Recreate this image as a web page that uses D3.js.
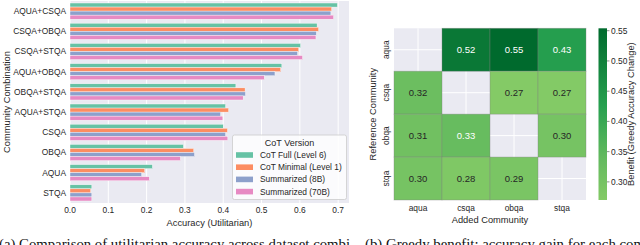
<!DOCTYPE html>
<html lang="en">
<head>
<meta charset="utf-8">
<title>CoT versions and greedy benefit</title>
<script src="https://d3js.org/d3.v7.min.js"></script>
<style>
  body { margin: 0; background: #fff; }
  svg text { font-family: "Liberation Sans", Arial, sans-serif; fill: #262626; }
  .caption { font-family: "Liberation Serif", "Times New Roman", serif; fill: #111; }
</style>
</head>
<body>
<script>
// ---- data: left chart (accuracy per combination and CoT version)
var combos = ["AQUA+CSQA", "CSQA+OBQA", "CSQA+STQA", "AQUA+OBQA", "OBQA+STQA",
              "AQUA+STQA", "CSQA", "OBQA", "AQUA", "STQA"];
var versions = ["CoT Full (Level 6)", "CoT Minimal (Level 1)", "Summarized (8B)", "Summarized (70B)"];
var cotFull    = [0.698, 0.645, 0.602, 0.553, 0.433, 0.406, 0.400, 0.296, 0.215, 0.057];
var cotMinimal = [0.683, 0.649, 0.597, 0.550, 0.457, 0.414, 0.411, 0.323, 0.195, 0.054];
var summ8b     = [0.681, 0.643, 0.594, 0.535, 0.458, 0.393, 0.406, 0.325, 0.187, 0.057];
var summ70b    = [0.688, 0.642, 0.607, 0.507, 0.452, 0.399, 0.412, 0.288, 0.207, 0.057];
var xTicks = [0.0, 0.1, 0.2, 0.3, 0.4, 0.5, 0.6, 0.7];

// ---- data: right chart (greedy benefit, rows = reference, cols = added)
var communities = ["aqua", "csqa", "obqa", "stqa"];
var benefitAqua = [null, 0.52, 0.554, 0.43];
var benefitCsqa = [0.32, null, 0.27, 0.272];
var benefitObqa = [0.31, 0.33, null, 0.30];
var benefitStqa = [0.30, 0.28, 0.29, null];
var cbarTicks = [0.30, 0.35, 0.40, 0.45, 0.50, 0.55];

var palette = ["#66c2a5", "#fc8d62", "#8da0cb", "#e78ac3"];
var series = [cotFull, cotMinimal, summ8b, summ70b];

var svg = d3.select("body").append("svg")
  .attr("width", 640).attr("height", 245);

/******** LEFT: grouped horizontal bars ********/
var left = {x0: 70, x1: 349, y0: 1, y1: 203};

var xScale = d3.scaleLinear().domain([0, 0.7283]).range([left.x0, left.x1]);
var yScale = d3.scaleBand().domain(combos).range([left.y0, left.y1]);
var inner = d3.scaleBand().domain(d3.range(4))
  .range([0, yScale.bandwidth() * 0.8]);

svg.append("rect")
  .attr("x", left.x0).attr("y", left.y0)
  .attr("width", left.x1 - left.x0).attr("height", left.y1 - left.y0)
  .attr("fill", "#eaeaf2");

svg.append("g").selectAll("line").data(xTicks).join("line")
  .attr("x1", d => xScale(d)).attr("x2", d => xScale(d))
  .attr("y1", left.y0).attr("y2", left.y1)
  .attr("stroke", "#fff").attr("stroke-width", 1);

var bars = [];
combos.forEach(function(c, i) {
  series.forEach(function(s, j) {
    bars.push({combo: c, k: j, v: s[i]});
  });
});

svg.append("g").selectAll("rect").data(bars).join("rect")
  .attr("x", xScale(0))
  .attr("y", d => yScale(d.combo) + yScale.bandwidth() * 0.1 + inner(d.k))
  .attr("width", d => xScale(d.v) - xScale(0))
  .attr("height", inner.bandwidth())
  .attr("fill", d => palette[d.k])
  .attr("stroke", "#fff").attr("stroke-width", 0.4);

svg.append("g").selectAll("text").data(combos).join("text")
  .attr("x", left.x0 - 4)
  .attr("y", d => yScale(d) + yScale.bandwidth() / 2)
  .attr("dy", "0.35em").attr("text-anchor", "end")
  .style("font-size", "8.4px").text(d => d);

svg.append("g").selectAll("text").data(xTicks).join("text")
  .attr("x", d => xScale(d)).attr("y", 213)
  .attr("text-anchor", "middle")
  .style("font-size", "8.4px").text(d => d.toFixed(1));

svg.append("text")
  .attr("x", (left.x0 + left.x1) / 2).attr("y", 226)
  .attr("text-anchor", "middle").style("font-size", "9.3px")
  .text("Accuracy (Utilitarian)");

svg.append("text")
  .attr("transform", "translate(10," + ((left.y0 + left.y1) / 2) + ") rotate(-90)")
  .attr("text-anchor", "middle").style("font-size", "9.3px")
  .text("Community Combination");

// legend
var lg = svg.append("g");
lg.append("rect")
  .attr("x", 232.5).attr("y", 135).attr("width", 114).attr("height", 64.5)
  .attr("rx", 2).attr("fill", "#fff").attr("fill-opacity", 0.8)
  .attr("stroke", "#cccccc").attr("stroke-width", 0.8);
lg.append("text").attr("x", 289.5).attr("y", 146)
  .attr("text-anchor", "middle").style("font-size", "9px").text("CoT Version");
var entries = lg.selectAll("g.entry").data(versions).join("g")
  .attr("transform", (d, i) => "translate(236," + (155 + i * 12.2) + ")");
entries.append("rect")
  .attr("x", 0).attr("y", -2.8).attr("width", 17).attr("height", 5.6)
  .attr("fill", (d, i) => palette[i]);
entries.append("text")
  .attr("x", 24).attr("y", 0).attr("dy", "0.35em")
  .style("font-size", "8.4px").text(d => d);

/******** RIGHT: heatmap ********/
var hm = {x0: 394, x1: 586, y0: 28.3, y1: 200};
var rows = [benefitAqua, benefitCsqa, benefitObqa, benefitStqa];
var cx = d3.scaleBand().domain(communities).range([hm.x0, hm.x1]);
var cy = d3.scaleBand().domain(communities).range([hm.y0, hm.y1]);

var all = [].concat.apply([], rows).filter(v => v != null);
var ext = d3.extent(all);
var color = d3.scaleLinear()
  .domain([ext[0], ext[0] + (ext[1] - ext[0]) * 0.25, ext[0] + (ext[1] - ext[0]) * 0.55, ext[1]])
  .range(["#84ca66", "#62b95e", "#26a04f", "#006a2d"]);

svg.append("rect")
  .attr("x", hm.x0).attr("y", hm.y0)
  .attr("width", hm.x1 - hm.x0).attr("height", hm.y1 - hm.y0)
  .attr("fill", "#eaeaf2");
var hg = svg.append("g");
communities.forEach(function(c) {
  hg.append("line")
    .attr("x1", cx(c) + cx.bandwidth() / 2).attr("x2", cx(c) + cx.bandwidth() / 2)
    .attr("y1", hm.y0).attr("y2", hm.y1).attr("stroke", "#fff");
  hg.append("line")
    .attr("y1", cy(c) + cy.bandwidth() / 2).attr("y2", cy(c) + cy.bandwidth() / 2)
    .attr("x1", hm.x0).attr("x2", hm.x1).attr("stroke", "#fff");
});

var cells = [];
rows.forEach(function(r, i) {
  r.forEach(function(v, j) {
    if (v != null) cells.push({row: communities[i], col: communities[j], v: v});
  });
});

// annotation colour: white on the darker cells (0.33 and up), dark otherwise
function textColor(v) {
  return v >= 0.325 ? "#ffffff" : "#262626";
}

svg.append("g").selectAll("rect").data(cells).join("rect")
  .attr("x", d => cx(d.col)).attr("y", d => cy(d.row))
  .attr("width", cx.bandwidth()).attr("height", cy.bandwidth())
  .attr("fill", d => color(d.v))
  .attr("stroke", "#808080").attr("stroke-opacity", 0.45).attr("stroke-width", 0.8);

svg.append("g").selectAll("text").data(cells).join("text")
  .attr("x", d => cx(d.col) + cx.bandwidth() / 2)
  .attr("y", d => cy(d.row) + cy.bandwidth() / 2)
  .attr("dy", "0.35em").attr("text-anchor", "middle")
  .style("font-size", "9.5px")
  .style("fill", d => textColor(d.v))
  .text(d => d.v.toFixed(2));

svg.append("g").selectAll("text").data(communities).join("text")
  .attr("x", d => cx(d) + cx.bandwidth() / 2).attr("y", 211)
  .attr("text-anchor", "middle").style("font-size", "8.4px").text(d => d);

svg.append("g").selectAll("text").data(communities).join("text")
  .attr("transform", d => "translate(389," + (cy(d) + cy.bandwidth() / 2) + ") rotate(-90)")
  .attr("text-anchor", "middle").style("font-size", "8.4px").text(d => d);

svg.append("text")
  .attr("x", (hm.x0 + hm.x1) / 2).attr("y", 223)
  .attr("text-anchor", "middle").style("font-size", "9.3px")
  .text("Added Community");

svg.append("text")
  .attr("transform", "translate(376," + ((hm.y0 + hm.y1) / 2) + ") rotate(-90)")
  .attr("text-anchor", "middle").style("font-size", "9.3px")
  .text("Reference Community");

// colorbar
var cb = {x0: 598.5, x1: 607, y0: 28.3, y1: 200};
var cScale = d3.scaleLinear().domain(ext).range([cb.y1, cb.y0]);
var grad = svg.append("defs").append("linearGradient")
  .attr("id", "cbgrad").attr("x1", 0).attr("y1", 1).attr("x2", 0).attr("y2", 0);
d3.range(0, 1.0001, 0.05).forEach(function(t) {
  grad.append("stop").attr("offset", t)
    .attr("stop-color", color(ext[0] + t * (ext[1] - ext[0])));
});
svg.append("rect")
  .attr("x", cb.x0).attr("y", cb.y0)
  .attr("width", cb.x1 - cb.x0).attr("height", cb.y1 - cb.y0)
  .attr("fill", "url(#cbgrad)");
var cbt = svg.append("g").selectAll("g").data(cbarTicks).join("g")
  .attr("transform", d => "translate(" + cb.x1 + "," + cScale(d) + ")");
cbt.append("line").attr("x1", 0).attr("x2", 2.5).attr("stroke", "#444").attr("stroke-width", 0.6);
cbt.append("text").attr("x", 4).attr("dy", "0.35em")
  .style("font-size", "8.4px").text(d => d.toFixed(2));

svg.append("text")
  .attr("transform", "translate(634," + ((cb.y0 + cb.y1) / 2) + ") rotate(-90)")
  .attr("text-anchor", "middle").style("font-size", "9.3px")
  .text("Benefit (Greedy Accuracy Change)");

/******** captions (cut off at the bottom edge, as in the source figure) ********/
svg.append("text").attr("class", "caption")
  .attr("x", -1).attr("y", 248.5).style("font-size", "14px")
  .attr("textLength", 351).attr("lengthAdjust", "spacingAndGlyphs")
  .text("(a) Comparison of utilitarian accuracy across dataset combi");
svg.append("text").attr("class", "caption")
  .attr("x", 365).attr("y", 248.5).style("font-size", "14px")
  .attr("textLength", 280).attr("lengthAdjust", "spacingAndGlyphs")
  .text("(b) Greedy benefit: accuracy gain for each com");
</script>
</body>
</html>
